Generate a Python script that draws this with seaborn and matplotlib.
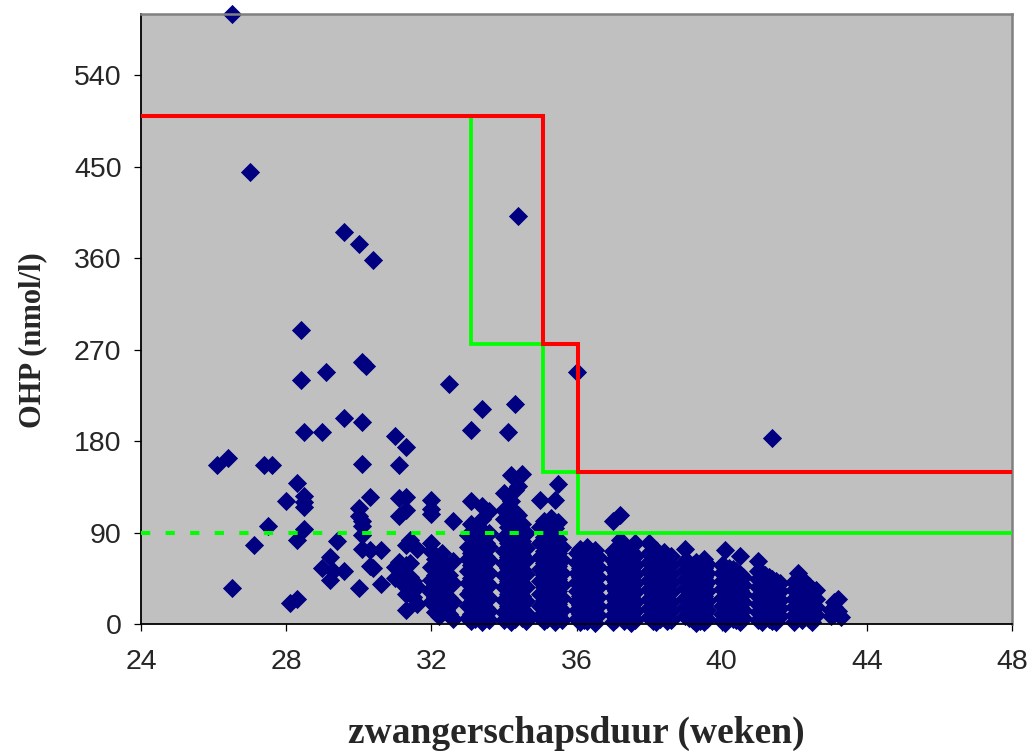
import numpy as np
import pandas as pd
import matplotlib
matplotlib.use("Agg")
import matplotlib.pyplot as plt
import seaborn as sns


# losse punten: vroeggeboorte (< 32 wk) en uitschieters (zwangerschapsduur, OHP)
sparse_pts = [
    (26.5, 600), (27.0, 445), (29.6, 386), (30.0, 374), (30.4, 358), (34.4, 401),
    (28.4, 289), (28.4, 240), (29.1, 248), (30.1, 258), (30.2, 254), (32.5, 236),
    (33.4, 211), (34.3, 216), (29.6, 203), (30.1, 199), (28.5, 189), (29.0, 189),
    (31.0, 185), (31.3, 174), (33.1, 191), (34.1, 189), (36.0, 248), (41.4, 183),
    (26.1, 156), (26.4, 163), (27.4, 156), (27.6, 156), (30.1, 157), (31.1, 156),
    (28.3, 139), (28.0, 121), (28.5, 126), (28.5, 120), (28.5, 115), (27.5, 96),
    (27.1, 78), (28.3, 83), (28.5, 93), (29.4, 82), (29.2, 66), (29.0, 55),
    (29.3, 52), (29.6, 52), (29.2, 43), (30.0, 35), (26.5, 35), (28.1, 21),
    (28.3, 25), (30.3, 125), (30.0, 114), (30.0, 106), (30.1, 101), (30.1, 96),
    (30.1, 88), (31.1, 124), (31.3, 125), (31.3, 112), (31.1, 106), (30.1, 74),
    (30.3, 73), (30.6, 73), (30.3, 57), (30.4, 55), (30.6, 39), (31.0, 56),
    (31.1, 61), (31.3, 78), (31.4, 83), (31.6, 74), (31.0, 45), (31.2, 50),
    (31.3, 58), (31.4, 60), (31.2, 40), (31.4, 46), (31.5, 42), (31.6, 36),
    (31.3, 30), (31.5, 27), (31.3, 14), (31.6, 20),
]

# per week: duur (weken.dagen) -> OHP waarden
week32 = {32.0: [122, 113, 108, 80, 72, 56, 43, 34, 31, 22], 32.1: [64, 48, 27, 12],
          32.2: [52, 38, 18, 8], 32.3: [70, 44, 30, 20], 32.4: [58, 34, 14],
          32.5: [48, 26, 10], 32.6: [101, 62, 40, 22, 5]}
week33 = {33.0: [88, 76, 64, 52, 40, 30, 18, 6], 33.1: [121, 98, 70, 58, 45, 33, 22, 10, 3],
          33.2: [86, 74, 61, 50, 37, 26, 14, 5], 33.3: [95, 80, 67, 54, 42, 30, 19, 8],
          33.4: [116, 103, 88, 72, 60, 47, 35, 24, 12, 2], 33.5: [80, 66, 52, 41, 28, 16, 7],
          33.6: [111, 90, 76, 63, 50, 38, 26, 13, 4]}
week34 = {34.0: [129, 112, 103, 86, 72, 60, 48, 36, 24, 12, 4], 34.1: [95, 80, 66, 55, 42, 30, 18, 8],
          34.2: [147, 121, 100, 85, 70, 58, 46, 33, 21, 9, 2], 34.3: [132, 110, 92, 76, 62, 50, 38, 26, 14, 5],
          34.4: [136, 107, 88, 73, 60, 45, 31, 20, 10], 34.5: [148, 98, 82, 68, 54, 40, 28, 15, 6],
          34.6: [90, 75, 63, 49, 36, 23, 11, 3]}
week35 = {35.0: [122, 95, 80, 66, 54, 42, 30, 18, 7], 35.1: [101, 86, 72, 60, 48, 36, 24, 12, 3],
          35.2: [92, 78, 64, 52, 40, 27, 15, 5], 35.3: [104, 88, 74, 61, 47, 34, 22, 10],
          35.4: [122, 94, 80, 67, 55, 43, 31, 19, 8, 2], 35.5: [138, 100, 84, 70, 57, 44, 32, 20, 9],
          35.6: [76, 63, 50, 38, 26, 14, 4]}
week36 = {36.0: [70, 60, 50, 41, 32, 23, 14, 5], 36.1: [74, 64, 55, 46, 37, 28, 19, 10, 2],
          36.2: [68, 58, 48, 39, 30, 21, 12, 4], 36.3: [76, 66, 57, 47, 38, 29, 20, 11, 3],
          36.4: [71, 61, 51, 42, 33, 24, 15, 6], 36.5: [73, 63, 54, 44, 35, 26, 17, 8, 1],
          36.6: [66, 56, 46, 36, 27, 18, 9]}
week37 = {37.0: [101, 72, 63, 54, 45, 36, 27, 18, 9, 2], 37.1: [68, 59, 50, 41, 32, 23, 14, 5],
          37.2: [107, 83, 71, 62, 53, 44, 35, 26, 17, 8], 37.3: [74, 65, 56, 47, 38, 29, 20, 11, 3],
          37.4: [70, 61, 52, 43, 34, 25, 16, 7], 37.5: [72, 63, 54, 45, 36, 27, 18, 9, 1],
          37.6: [80, 67, 58, 49, 40, 31, 22, 13, 4]}
week38 = {38.0: [80, 70, 61, 52, 43, 34, 25, 16, 7], 38.1: [66, 57, 48, 39, 30, 21, 12, 3],
          38.2: [73, 64, 55, 46, 37, 28, 19, 10, 2], 38.3: [68, 59, 50, 41, 32, 23, 14, 5],
          38.4: [71, 62, 53, 44, 35, 26, 17, 8], 38.5: [64, 56, 47, 38, 29, 20, 11, 3],
          38.6: [67, 58, 49, 40, 31, 22, 13, 4]}
week39 = {39.0: [74, 62, 53, 44, 35, 26, 17, 8], 39.1: [60, 51, 42, 33, 24, 15, 6],
          39.2: [58, 49, 40, 31, 22, 13, 4], 39.3: [61, 52, 43, 34, 25, 16, 7, 1],
          39.4: [57, 48, 39, 30, 21, 12, 3], 39.5: [64, 55, 46, 37, 28, 19, 10, 2],
          39.6: [59, 50, 41, 32, 23, 14, 5]}
week40 = {40.0: [58, 50, 42, 34, 26, 18, 10, 3], 40.1: [73, 56, 48, 40, 32, 24, 16, 8, 1],
          40.2: [55, 47, 39, 31, 23, 15, 7], 40.3: [54, 46, 38, 30, 22, 14, 5],
          40.4: [52, 44, 36, 28, 20, 12, 4], 40.5: [67, 49, 41, 33, 25, 17, 9, 2],
          40.6: [46, 38, 30, 22, 14, 6]}
week41 = {41.0: [62, 52, 44, 36, 28, 20, 12, 4], 41.1: [50, 42, 34, 26, 18, 10, 2],
          41.2: [48, 40, 32, 24, 16, 8], 41.3: [46, 38, 30, 22, 14, 5],
          41.4: [44, 36, 28, 20, 12, 3], 41.5: [42, 34, 26, 18, 10, 2],
          41.6: [40, 32, 24, 16, 8]}
week42 = {42.0: [41, 33, 25, 17, 9, 2], 42.1: [50, 39, 31, 23, 15, 7],
          42.2: [44, 36, 28, 20, 12, 4], 42.3: [40, 32, 24, 16, 8],
          42.4: [37, 29, 21, 13, 5], 42.5: [34, 26, 18, 10, 2], 42.6: [33, 25, 17, 9]}
week43 = {43.0: [14, 8], 43.1: [22, 17, 10], 43.2: [25, 13], 43.3: [7]}

# afkapwaarden
red_x = [24, 35.08, 35.08, 36.05, 36.05, 48]
red_y = [500, 500, 275, 275, 150, 150]
green_x = [33.08, 33.08, 35.08, 35.08, 36.05, 36.05, 48]
green_y = [500, 275, 275, 150, 150, 90, 90]
green_dash_x = [24, 36.05]
green_dash_y = [90, 90]

frames = [pd.DataFrame(sparse_pts, columns=['ga', 'ohp'])]
for wk in [week32, week33, week34, week35, week36, week37, week38, week39, week40, week41, week42, week43]:
    for ga, vals in wk.items():
        frames.append(pd.DataFrame({'ga': ga, 'ohp': vals}))
df = pd.concat(frames, ignore_index=True)

sns.set_style("ticks")
plt.rcParams['font.family'] = ['Liberation Sans', 'DejaVu Sans']

fig = plt.figure(figsize=(10.33, 7.54), dpi=100)
ax = fig.add_axes([0.1365, 0.1724, 0.8432, 0.809])
ax.set_facecolor('#c0c0c0')

sns.scatterplot(data=df, x='ga', y='ohp', marker='D', s=84, color='#000080',
                linewidth=0.6, edgecolor='#000080', legend=False, clip_on=False, zorder=2, ax=ax)

ax.plot(red_x, red_y, color='#ff0000', lw=2.9, zorder=4, solid_joinstyle='miter')
ax.plot(green_x, green_y, color='#00ff00', lw=2.7, zorder=3, solid_joinstyle='miter')
ax.plot(green_dash_x, green_dash_y, color='#00ff00', lw=2.9, zorder=3, linestyle=(0, (2.3, 3.8)))

ax.set_xlim(24, 48)
ax.set_ylim(0, 600)
ax.set_xticks(np.arange(24, 49, 4))
ax.set_yticks(np.arange(0, 541, 90))
ax.tick_params(axis='both', direction='out', length=5, width=0.9, color='black', labelsize=20.5)
ax.tick_params(axis='x', pad=13)
ax.tick_params(axis='y', pad=9)

for side in ['left', 'bottom']:
    ax.spines[side].set_color('black')
    ax.spines[side].set_linewidth(1.3)
for side in ['top', 'right']:
    ax.spines[side].set_visible(True)
    ax.spines[side].set_color('#808080')
    ax.spines[side].set_linewidth(1.8)

ax.set_xlabel('zwangerschapsduur (weken)', fontsize=27, fontweight='bold', family='Liberation Serif')
ax.set_ylabel('OHP (nmol/l)', fontsize=22, fontweight='bold', family='Liberation Serif')
ax.xaxis.label.set_va('baseline')
ax.xaxis.set_label_coords(0.5, -0.195)
ax.yaxis.set_label_coords(-0.108, 0.466)

plt.savefig('out.png', dpi=100)
plt.close()
